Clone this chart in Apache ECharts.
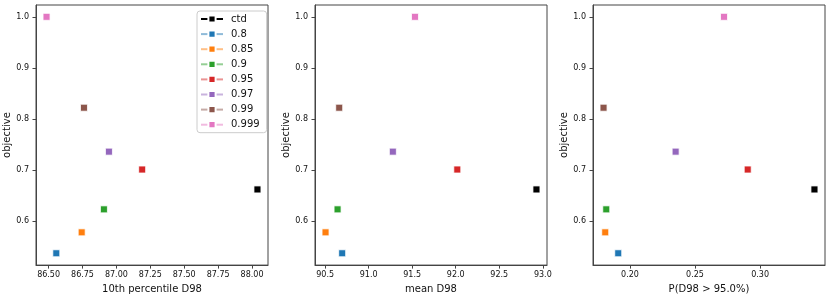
<!DOCTYPE html>
<html>
<head>
<meta charset="utf-8">
<script src="https://cdn.jsdelivr.net/npm/echarts@6/dist/echarts.min.js"></script>
<style>html,body{margin:0;padding:0;background:#fff}#c{width:831px;height:299px}</style>
</head>
<body>
<div id="c"></div>
<script>
const seriesNames = ['ctd', '0.8', '0.85', '0.9', '0.95', '0.97', '0.99', '0.999'];
const seriesColors = ['#000000', '#1f77b4', '#ff7f0e', '#2ca02c', '#d62728', '#9467bd', '#8c564b', '#e377c2'];
const objective = [0.662, 0.537, 0.578, 0.623, 0.701, 0.736, 0.822, 1.000];
const p10D98 = [88.04, 86.557, 86.744, 86.908, 87.19, 86.945, 86.761, 86.485];
const meanD98 = [92.927, 90.696, 90.505, 90.643, 92.018, 91.278, 90.662, 91.532];
const probD98 = [0.3418, 0.191, 0.181, 0.1818, 0.2905, 0.2351, 0.1797, 0.2723];
const yTicks = [0.6, 0.7, 0.8, 0.9, 1.0];
const xTicks1 = [86.5, 86.75, 87.0, 87.25, 87.5, 87.75, 88.0];
const xTicks2 = [90.5, 91.0, 91.5, 92.0, 92.5, 93.0];
const xTicks3 = [0.20, 0.25, 0.30];
const xTitles = ['10th percentile D98', 'mean D98', 'P(D98 > 95.0%)'];
const yTitle = 'objective';

const panels = [
  {x: p10D98, ticks: xTicks1, dec: 2, left: 36},
  {x: meanD98, ticks: xTicks2, dec: 1, left: 315},
  {x: probD98, ticks: xTicks3, dec: 2, left: 593}
];

function pad(vals) {
  const mn = Math.min(...vals), mx = Math.max(...vals);
  const m = (mx - mn) * 0.05;
  return [mn - m, mx + m];
}

const font = 'DejaVu Sans';
const txt = '#111';
const grids = [], xAxes = [], yAxes = [], series = [];
const yr = pad(objective);

panels.forEach((p, i) => {
  grids.push({left: p.left, width: 232, top: 5, height: 262, show: true, borderColor: '#444', borderWidth: 1, backgroundColor: 'transparent'});
  const xr = pad(p.x);
  xAxes.push({
    type: 'value', gridIndex: i, min: xr[0], max: xr[1],
    name: xTitles[i], nameLocation: 'middle', nameGap: 15,
    nameTextStyle: {fontFamily: font, fontSize: 10, color: txt},
    axisLine: {show: true, lineStyle: {color: '#444', width: 1}},
    axisTick: {show: true, length: 3.5, lineStyle: {color: '#444'}, customValues: p.ticks},
    axisLabel: {fontFamily: font, fontSize: 8, color: txt, margin: 6, customValues: p.ticks,
      formatter: v => v.toFixed(p.dec)},
    splitLine: {show: false}
  });
  yAxes.push({
    type: 'value', gridIndex: i, min: yr[0], max: yr[1],
    name: yTitle, nameLocation: 'middle', nameGap: 18, nameRotate: 90,
    nameTextStyle: {fontFamily: font, fontSize: 10, color: txt},
    axisLine: {show: true, lineStyle: {color: '#444', width: 1}},
    axisTick: {show: true, length: 3.5, lineStyle: {color: '#444'}, customValues: yTicks},
    axisLabel: {fontFamily: font, fontSize: 8, color: txt, margin: 7, customValues: yTicks,
      formatter: v => v.toFixed(1)},
    splitLine: {show: false}
  });
  seriesNames.forEach((n, k) => {
    series.push({
      name: n, type: 'line', xAxisIndex: i, yAxisIndex: i,
      data: [[p.x[k], objective[k]]],
      symbol: 'rect', symbolSize: 7, showSymbol: true,
      itemStyle: {color: seriesColors[k], borderColor: '#fff', borderWidth: 0.8},
      lineStyle: {color: seriesColors[k], width: 1.3, opacity: k === 0 ? 1 : 0.5},
      emphasis: {disabled: true}, silent: true, animation: false
    });
  });
});

const chart = echarts.init(document.getElementById('c'), null, {renderer: 'canvas'});
chart.setOption({
  animation: false,
  grid: grids, xAxis: xAxes, yAxis: yAxes, series: series,
  legend: {
    data: seriesNames, orient: 'vertical', left: 197, top: 11,
    itemWidth: 22, itemHeight: 9, itemGap: 3.1,
    padding: [2, 7, 2, 3],
    backgroundColor: '#fff', borderColor: '#ccc', borderWidth: 1, borderRadius: 3,
    textStyle: {fontFamily: font, fontSize: 10, color: txt, lineHeight: 12, padding: [0, 0, 0, 3]},
    selectedMode: false
  }
});
</script>
</body>
</html>
